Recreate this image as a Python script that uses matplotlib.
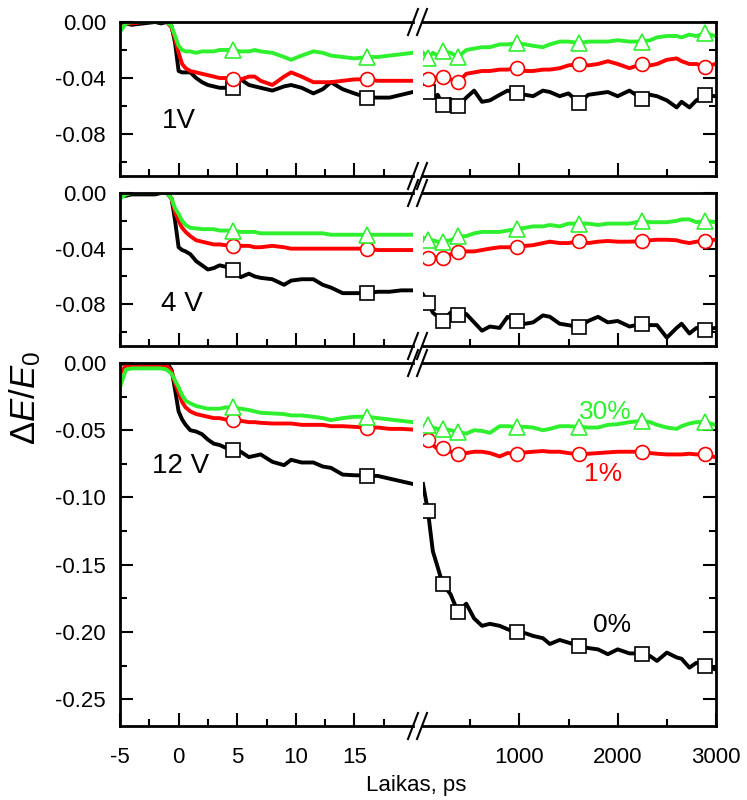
import matplotlib.pyplot as plt
from matplotlib.lines import Line2D
from matplotlib.ticker import FixedLocator, MultipleLocator, FormatStrFormatter

plt.rcParams['font.family'] = ['Liberation Sans', 'DejaVu Sans']
plt.rcParams['mathtext.fontset'] = 'custom'
plt.rcParams['mathtext.rm'] = 'Liberation Sans'
plt.rcParams['mathtext.it'] = 'Liberation Sans:italic'
plt.rcParams['axes.unicode_minus'] = False

# laikas (ps): kairė dalis -5..20, dešinė 20..3000
t_left = [-5, -4.5, -4, -3, -2, -1.5, -1, -0.6, -0.3, 0, 0.3, 0.6, 1, 1.5, 2, 2.5, 3, 3.5, 4, 4.6,
          5.3, 6, 6.5, 7, 8, 9, 9.6, 10.5, 11.5, 12.3, 13, 14, 15, 16.1, 17, 18, 19, 20]
t_right = [20, 70, 120, 170, 220, 300, 378, 460, 540, 620, 700, 800, 880, 971, 1060, 1140, 1240, 1310,
           1410, 1500, 1610, 1700, 1800, 1900, 2000, 2120, 2250, 2330, 2400, 2500, 2600, 2650, 2730,
           2800, 2890, 2990]
mark_left = [4.6, 16.1]
mark_right = [70, 220, 378, 971, 1610, 2250, 2890]

# ---- 1 V ----
k1_left = [0.0, -0.001, -0.002, -0.001, 0.0, -0.001, 0.0, -0.003, -0.015, -0.035, -0.036, -0.036, -0.036,
           -0.040, -0.043, -0.045, -0.046, -0.047, -0.047, -0.047, -0.041, -0.045, -0.046, -0.047, -0.049,
           -0.046, -0.045, -0.047, -0.051, -0.048, -0.043, -0.048, -0.051, -0.054, -0.054, -0.054, -0.052, -0.050]
r1_left = [0.0, -0.001, -0.001, 0.0, 0.0, 0.0, 0.0, -0.004, -0.012, -0.022, -0.030, -0.033, -0.035,
           -0.036, -0.037, -0.038, -0.039, -0.040, -0.040, -0.041, -0.041, -0.039, -0.039, -0.042, -0.045,
           -0.039, -0.036, -0.039, -0.043, -0.043, -0.043, -0.042, -0.041, -0.041, -0.042, -0.042, -0.042, -0.042]
g1_left = [-0.007, -0.001, 0.0, 0.0, 0.0, 0.0, 0.0, -0.003, -0.010, -0.017, -0.020, -0.021, -0.021,
           -0.022, -0.021, -0.021, -0.021, -0.020, -0.020, -0.020, -0.021, -0.021, -0.020, -0.021, -0.022,
           -0.025, -0.027, -0.024, -0.021, -0.022, -0.024, -0.025, -0.026, -0.025, -0.025, -0.024, -0.023, -0.022]
k1_right = [-0.051, -0.050, -0.054, -0.052, -0.059, -0.055, -0.060, -0.054, -0.049, -0.057, -0.056, -0.052,
            -0.049, -0.051, -0.052, -0.053, -0.049, -0.050, -0.053, -0.051, -0.058, -0.052, -0.051, -0.050,
            -0.053, -0.049, -0.055, -0.052, -0.053, -0.056, -0.061, -0.057, -0.061, -0.056, -0.052, -0.053]
r1_right = [-0.040, -0.041, -0.040, -0.040, -0.0395, -0.041, -0.043, -0.037, -0.036, -0.035, -0.035, -0.034,
            -0.034, -0.033, -0.035, -0.035, -0.034, -0.034, -0.033, -0.031, -0.030, -0.031, -0.030, -0.028,
            -0.030, -0.033, -0.030, -0.031, -0.030, -0.027, -0.026, -0.028, -0.030, -0.030, -0.032, -0.030]
g1_right = [-0.022, -0.026, -0.022, -0.024, -0.021, -0.022, -0.025, -0.020, -0.019, -0.018, -0.018, -0.016,
            -0.016, -0.015, -0.016, -0.017, -0.018, -0.016, -0.014, -0.014, -0.015, -0.014, -0.014, -0.014,
            -0.013, -0.014, -0.014, -0.013, -0.011, -0.010, -0.010, -0.011, -0.009, -0.010, -0.008, -0.010]

# ---- 4 V ----
k4_left = [-0.002, -0.002, -0.001, -0.001, -0.001, 0.0, 0.0, -0.004, -0.020, -0.039, -0.041, -0.042, -0.044,
           -0.049, -0.052, -0.055, -0.054, -0.052, -0.053, -0.055, -0.0605, -0.058, -0.060, -0.061, -0.062,
           -0.066, -0.063, -0.062, -0.062, -0.066, -0.068, -0.072, -0.072, -0.072, -0.071, -0.071, -0.070, -0.070]
r4_left = [-0.001, 0.0, 0.0, 0.0, 0.0, 0.0, 0.0, -0.004, -0.014, -0.020, -0.025, -0.028, -0.031,
           -0.034, -0.035, -0.036, -0.037, -0.037, -0.0375, -0.038, -0.038, -0.038, -0.039, -0.039, -0.038,
           -0.039, -0.040, -0.040, -0.040, -0.040, -0.040, -0.040, -0.040, -0.040, -0.041, -0.041, -0.041, -0.041]
g4_left = [-0.004, -0.001, 0.0, 0.0, 0.0, 0.0, 0.0, -0.004, -0.011, -0.015, -0.020, -0.023, -0.025,
           -0.0255, -0.026, -0.026, -0.026, -0.027, -0.027, -0.027, -0.028, -0.028, -0.028, -0.029, -0.029,
           -0.029, -0.029, -0.029, -0.029, -0.029, -0.030, -0.030, -0.030, -0.030, -0.030, -0.030, -0.030, -0.030]
k4_right = [-0.073, -0.079, -0.086, -0.089, -0.092, -0.086, -0.088, -0.087, -0.093, -0.099, -0.096, -0.097,
            -0.089, -0.092, -0.094, -0.093, -0.088, -0.089, -0.094, -0.095, -0.0965, -0.092, -0.089, -0.093,
            -0.092, -0.096, -0.094, -0.095, -0.095, -0.104, -0.097, -0.094, -0.101, -0.097, -0.0985, -0.097]
r4_right = [-0.046, -0.0466, -0.047, -0.046, -0.047, -0.044, -0.0425, -0.042, -0.042, -0.041, -0.040, -0.039,
            -0.039, -0.039, -0.038, -0.0375, -0.036, -0.035, -0.036, -0.036, -0.0346, -0.036, -0.035, -0.0345,
            -0.035, -0.035, -0.0346, -0.034, -0.0336, -0.0336, -0.034, -0.035, -0.036, -0.035, -0.0345, -0.0336]
g4_right = [-0.032, -0.034, -0.034, -0.035, -0.035, -0.034, -0.031, -0.031, -0.029, -0.028, -0.028, -0.028,
            -0.027, -0.026, -0.025, -0.024, -0.024, -0.023, -0.024, -0.022, -0.022, -0.022, -0.023, -0.022,
            -0.022, -0.022, -0.020, -0.021, -0.021, -0.021, -0.020, -0.019, -0.019, -0.021, -0.020, -0.021]

# ---- 12 V ----
k12_left = [-0.001, 0.0, 0.0, 0.0, 0.0, 0.0, 0.0, -0.005, -0.020, -0.036, -0.042, -0.046, -0.050,
            -0.051, -0.053, -0.057, -0.060, -0.061, -0.063, -0.0645, -0.066, -0.070, -0.069, -0.068, -0.0735,
            -0.076, -0.072, -0.074, -0.074, -0.077, -0.078, -0.083, -0.0835, -0.0837, -0.084, -0.086, -0.088, -0.090]
r12_left = [-0.008, -0.002, -0.0015, -0.0015, -0.0015, -0.0015, -0.002, -0.006, -0.015, -0.022, -0.029, -0.033,
            -0.036, -0.038, -0.039, -0.040, -0.041, -0.041, -0.042, -0.0425, -0.043, -0.044, -0.044, -0.0445,
            -0.045, -0.045, -0.045, -0.046, -0.046, -0.046, -0.047, -0.047, -0.0475, -0.048, -0.048, -0.049,
            -0.049, -0.0495]
g12_left = [-0.018, -0.005, -0.004, -0.004, -0.004, -0.004, -0.005, -0.008, -0.013, -0.018, -0.024, -0.028,
            -0.030, -0.032, -0.033, -0.034, -0.034, -0.034, -0.033, -0.033, -0.034, -0.035, -0.036, -0.037,
            -0.0375, -0.038, -0.039, -0.039, -0.040, -0.041, -0.0425, -0.041, -0.040, -0.040, -0.041, -0.042,
            -0.043, -0.044]
k12_right = [-0.090, -0.110, -0.140, -0.152, -0.1644, -0.172, -0.1855, -0.179, -0.190, -0.1955, -0.194, -0.1955,
             -0.198, -0.2004, -0.201, -0.203, -0.2047, -0.209, -0.206, -0.208, -0.2104, -0.212, -0.213, -0.2166,
             -0.213, -0.216, -0.2161, -0.218, -0.2216, -0.2154, -0.219, -0.220, -0.2266, -0.223, -0.2253, -0.2278]
r12_right = [-0.057, -0.057, -0.061, -0.064, -0.063, -0.066, -0.068, -0.067, -0.066, -0.066, -0.067, -0.0695,
             -0.067, -0.0675, -0.0665, -0.066, -0.0655, -0.066, -0.066, -0.067, -0.068, -0.0675, -0.067, -0.0665,
             -0.066, -0.066, -0.066, -0.067, -0.0675, -0.068, -0.068, -0.068, -0.0675, -0.068, -0.068, -0.070]
g12_right = [-0.0475, -0.046, -0.048, -0.049, -0.049, -0.050, -0.0513, -0.0525, -0.050, -0.0505, -0.052, -0.047,
             -0.047, -0.0475, -0.0475, -0.048, -0.050, -0.049, -0.047, -0.047, -0.0475, -0.048, -0.048, -0.046,
             -0.0455, -0.044, -0.043, -0.044, -0.046, -0.048, -0.049, -0.047, -0.045, -0.044, -0.0438, -0.046]

W, H = 747, 800
fig = plt.figure(figsize=(W / 100, H / 100), dpi=100)

green = '#2ef02e'
idx_left = [t_left.index(m) for m in mark_left]
idx_right = [t_right.index(m) for m in mark_right]


def px(x, y):
    # pikseliai -> figūros koordinatės
    return x / W, 1 - y / H


def draw_panel(top, bottom, ylim, major, minor, data, label, label_xy, last=False):
    x0, y0 = px(120, bottom)
    x1, y1 = px(413, top)
    axL = fig.add_axes([x0, y0, x1 - x0, y1 - y0])
    x2, _ = px(423, top)
    x3, _ = px(716, top)
    axR = fig.add_axes([x2, y0, x3 - x2, y1 - y0])

    styles = [('black', 's', 10, 'black'), ('red', 'o', 10, 'red'), (green, '^', 11, green)]
    for (vl, vr), (c, m, ms, ec) in zip(data, styles):
        kw = dict(color=c, lw=2.8, marker=m, ms=ms, mfc='white', mec=ec, mew=1.2)
        axL.plot(t_left, vl, markevery=idx_left, **kw)
        axR.plot(t_right, vr, markevery=idx_right, **kw)

    axL.set_xlim(-5, 20)
    axR.set_xlim(20, 3000)
    for ax in (axL, axR):
        ax.set_ylim(*ylim)
        ax.yaxis.set_major_locator(MultipleLocator(major))
        ax.yaxis.set_minor_locator(MultipleLocator(minor))
        ax.yaxis.set_major_formatter(FormatStrFormatter('%.2f'))
        for s in ax.spines.values():
            s.set_linewidth(2)
        ax.tick_params(which='major', direction='in', length=9.5, width=1.5, labelsize=16, pad=10)
        ax.tick_params(which='minor', direction='in', length=5, width=1.5)
        ax.tick_params(axis='x', which='both', top=False, labelbottom=last, pad=15)
    axL.xaxis.set_major_locator(FixedLocator([-5, 0, 5, 10, 15]))
    axL.xaxis.set_minor_locator(FixedLocator([-2.5, 2.5, 7.5, 12.5, 17.5]))
    axR.xaxis.set_major_locator(FixedLocator([1000, 2000, 3000]))
    axR.xaxis.set_minor_locator(FixedLocator([500, 1500, 2500]))
    axL.spines['right'].set_visible(False)
    axR.spines['left'].set_visible(False)
    axL.tick_params(axis='y', which='both', right=False)
    axR.tick_params(axis='y', which='both', left=False, labelleft=False, right=True)

    axL.text(label_xy[0], label_xy[1], label, transform=axL.transAxes, fontsize=20,
             ha='center', va='center')

    # lūžio žymės //
    for yy in (top, bottom):
        for cx in (413, 422):
            xa, ya = px(cx - 5, yy + 13)
            xb, yb = px(cx + 5, yy - 13)
            fig.add_artist(Line2D([xa, xb], [ya, yb], color='black', lw=1.5,
                                  transform=fig.transFigure))
    return axL, axR


draw_panel(22, 176, (-0.11, 0.0), 0.04, 0.02,
           [(k1_left, k1_right), (r1_left, r1_right), (g1_left, g1_right)], '1V', (0.2, 0.357))
draw_panel(193, 346, (-0.11, 0.0), 0.04, 0.02,
           [(k4_left, k4_right), (r4_left, r4_right), (g4_left, g4_right)], '4 V', (0.21, 0.275))
axL, axR = draw_panel(363, 726, (-0.27, 0.0), 0.05, 0.025,
                      [(k12_left, k12_right), (r12_left, r12_right), (g12_left, g12_right)],
                      '12 V', (0.205, 0.716), last=True)

axR.text(1870, -0.0366, '30%', color=green, fontsize=19, ha='center', va='center')
axR.text(1850, -0.0828, '1%', color='red', fontsize=19, ha='center', va='center')
axR.text(1940, -0.1947, '0%', color='black', fontsize=19, ha='center', va='center')

fig.text(25 / W, 1 - 398 / H, r'$\Delta E/E_0$', rotation=90, fontsize=25, ha='center', va='center')
fig.text(416 / W, 1 - 785 / H, 'Laikas, ps', fontsize=16, ha='center', va='center')

plt.savefig('out.png', dpi=100)
plt.close()
